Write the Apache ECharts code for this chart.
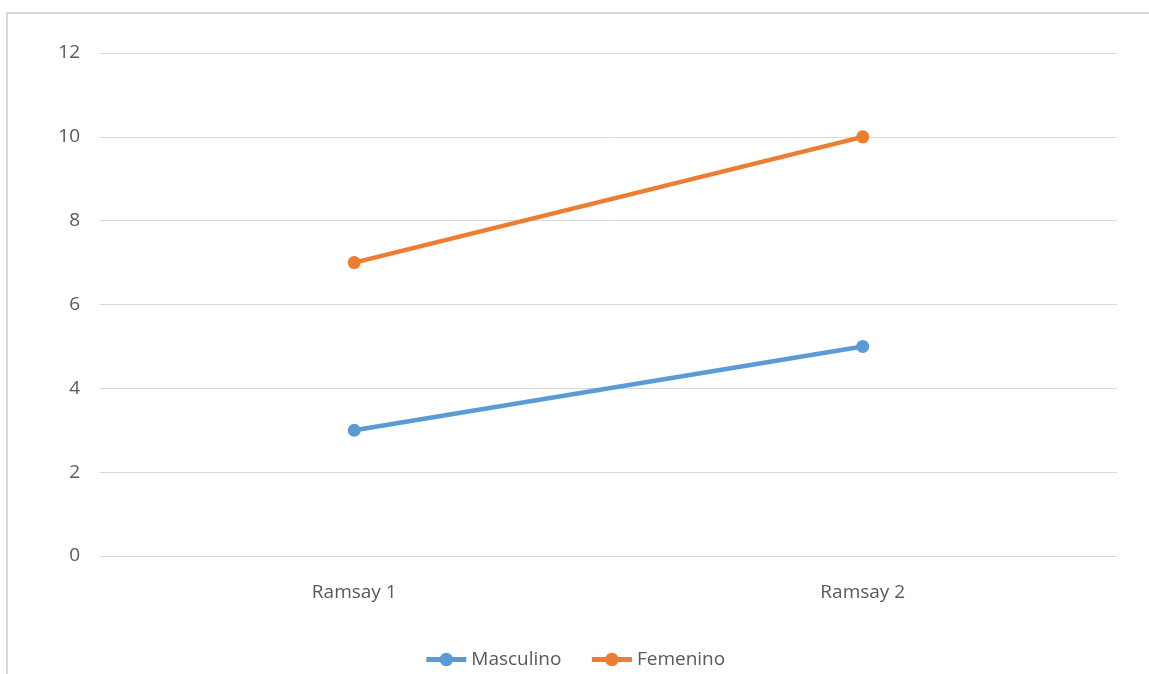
<!DOCTYPE html>
<html>
<head>
<meta charset="utf-8">
<script src="https://cdn.jsdelivr.net/npm/echarts@6/dist/echarts.min.js"></script>
<style>
  html, body { margin: 0; padding: 0; background: #fff; }
  #chart { width: 1149px; height: 674px; }
</style>
</head>
<body>
<div id="chart"></div>
<script>
// Ramsay scores by sex
const categories = ['Ramsay 1', 'Ramsay 2'];
const masculino = [3, 5];
const femenino = [7, 10];
const yTicks = { min: 0, max: 12, interval: 2 };

const textColor = '#595959';
const fontFamily = '"Open Sans", "DejaVu Sans", sans-serif';
const fontSize = 19;

const chart = echarts.init(document.getElementById('chart'), null, { renderer: 'canvas' });

chart.setOption({
  backgroundColor: '#fff',
  animation: false,
  graphic: [{
    type: 'rect',
    shape: { x: 7, y: 13, width: 1200, height: 720 },
    style: { fill: 'none', stroke: '#d9d9d9', lineWidth: 2 },
    silent: true,
    z: -1
  }],
  grid: { left: 100, right: 32, top: 53, bottom: 118 },
  legend: {
    bottom: 0,
    left: 'center',
    itemWidth: 40,
    itemHeight: 17,
    itemGap: 28,
    lineStyle: { width: 5 },
    textStyle: { color: textColor, fontSize: fontSize, fontFamily: fontFamily },
    data: ['Masculino', 'Femenino']
  },
  xAxis: {
    type: 'category',
    data: categories,
    boundaryGap: true,
    axisLine: { show: true, lineStyle: { color: '#d9d9d9', width: 1 } },
    axisTick: { show: false },
    axisLabel: { color: textColor, fontSize: fontSize, fontFamily: fontFamily, margin: 27 }
  },
  yAxis: {
    type: 'value',
    min: yTicks.min,
    max: yTicks.max,
    interval: yTicks.interval,
    axisLine: { show: false },
    axisTick: { show: false },
    axisLabel: { color: textColor, fontSize: fontSize, fontFamily: fontFamily, margin: 20 },
    splitLine: { lineStyle: { color: '#d9d9d9', width: 1 } }
  },
  series: [
    {
      name: 'Masculino',
      type: 'line',
      data: masculino,
      symbol: 'circle',
      symbolSize: 13,
      color: '#5B9BD5',
      lineStyle: { width: 4.5, color: '#5B9BD5' },
      itemStyle: { color: '#5B9BD5' }
    },
    {
      name: 'Femenino',
      type: 'line',
      data: femenino,
      symbol: 'circle',
      symbolSize: 13,
      color: '#ED7D31',
      lineStyle: { width: 4.5, color: '#ED7D31' },
      itemStyle: { color: '#ED7D31' }
    }
  ]
});
</script>
</body>
</html>
